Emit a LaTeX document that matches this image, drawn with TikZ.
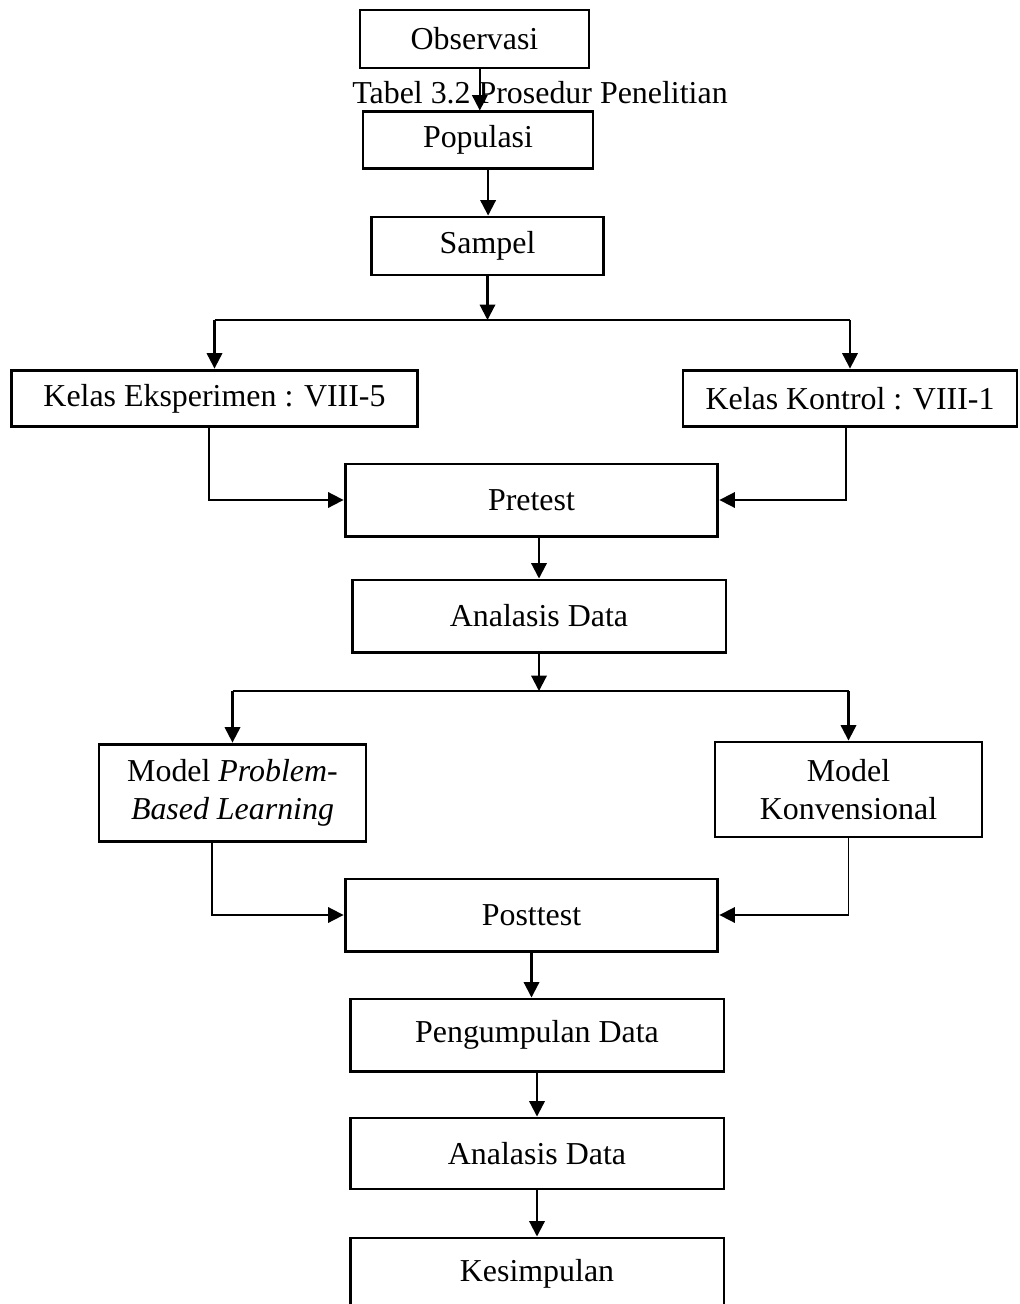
\documentclass[tikz,border=0pt]{standalone}
\usepackage{fontspec}
\setmainfont{Liberation Serif}
\usetikzlibrary{arrows.meta}

\tikzset{
	box/.style={draw,line width=1.1pt,inner sep=0pt,align=center,font=\fontsize{12}{14.3}\selectfont},
	arr/.style={-{Triangle[length=5.8pt,width=5.8pt]},line width=0.8pt},
	link/.style={line width=0.6pt}
}

\begin{document}
\begin{tikzpicture}[x=0.376pt,y=-0.376pt]
		\useasboundingbox (0,0) rectangle (1019,1304);

		% boxes
		\node[box,minimum width=86.1pt,minimum height=21.8pt] (obs) at (474.5,39) {Observasi};
		\node[font=\fontsize{12}{14.3}\selectfont] (judul) at (540,93) {Tabel 3.2 Prosedur Penelitian};
		\node[box,minimum width=86.5pt,minimum height=21.1pt] (pop) at (478,140) {Populasi};
		\node[box,minimum width=86.9pt,minimum height=21.8pt] (sampel) at (487.5,246) {Sampel};
		\node[box,minimum width=153pt,minimum height=21.4pt] (eks) at (214.5,398.5) {Kelas Eksperimen : VIII-5};
		\node[box,minimum width=125.6pt,minimum height=21.4pt] (kon) at (850,398.5) {Kelas Kontrol : VIII-1};
		\node[box,minimum width=140.2pt,minimum height=27.1pt] (pre) at (531.5,500) {Pretest};
		\node[box,minimum width=140.6pt,minimum height=27.1pt] (ana) at (539,616) {Analasis Data};
		\node[box,minimum width=100.4pt,minimum height=36.8pt] (pbl) at (232.5,793) {Model \textit{Problem-}\\\textit{Based Learning}};
		\node[box,minimum width=100.4pt,minimum height=35.7pt] (konv) at (848.5,789.5) {Model\\Konvensional};
		\node[box,minimum width=140.2pt,minimum height=27.1pt] (post) at (531.5,915) {Posttest};
		\node[box,minimum width=140.6pt,minimum height=27.1pt] (kumpul) at (537,1035) {Pengumpulan Data};
		\node[box,minimum width=140.6pt,minimum height=26.7pt] (ana2) at (537,1153.5) {Analasis Data};
		\node[box,minimum width=140.6pt,minimum height=27.1pt] (simpul) at (537,1274) {Kesimpulan};

		\coordinate (cab1) at (488,320);
		\coordinate (cab2) at (538,691);

		% arrows
		\draw[arr] ([xshift=2pt]obs.south) -- ([xshift=2pt]obs.south |- pop.north);
		\draw[arr] ([xshift=3.8pt]pop.south) -- ([xshift=3.8pt]pop.south |- sampel.north);
		\draw[arr] (sampel.south) -- (sampel.south |- cab1);
		\draw[link] (eks.north |- cab1) -- (kon.north |- cab1);
		\draw[arr] (eks.north |- cab1) -- (eks.north);
		\draw[arr] (kon.north |- cab1) -- (kon.north);
		\draw[arr,line width=0.65pt] ([xshift=-2pt]eks.south) |- (pre.west);
		\draw[arr,line width=0.65pt] ([xshift=-1.5pt]kon.south) |- (pre.east);
		\draw[arr] (ana.north |- pre.south) -- (ana.north);
		\draw[arr] (ana.south) -- (ana.south |- cab2);
		\draw[link] (pbl.north |- cab2) -- (konv.north |- cab2);
		\draw[arr] (pbl.north |- cab2) -- (pbl.north);
		\draw[arr] (konv.north |- cab2) -- (konv.north);
		\draw[arr,line width=0.65pt] ([xshift=-7.7pt]pbl.south) |- (post.west);
		\draw[arr,line width=0.65pt] (konv.south) |- (post.east);
		\draw[arr] (post.south) -- (post.south |- kumpul.north);
		\draw[arr] (kumpul.south) -- (ana2.north);
		\draw[arr] (ana2.south) -- (simpul.north);
	\end{tikzpicture}
\end{document}
